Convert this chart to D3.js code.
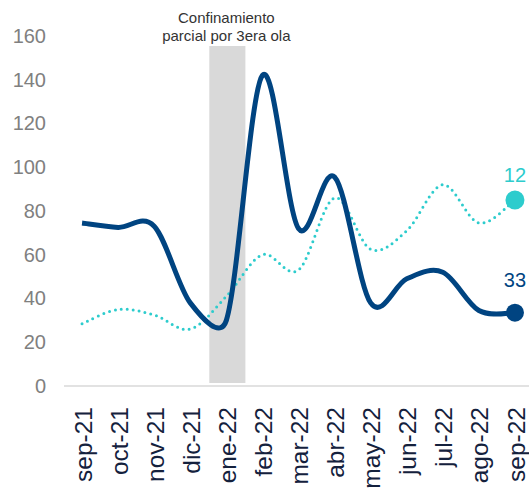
<!DOCTYPE html>
<html>
<head>
<meta charset="utf-8">
<script src="https://cdn.jsdelivr.net/npm/d3@7"></script>
<style>
  html, body { margin: 0; padding: 0; background: #fff; }
  svg { display: block; font-family: "Liberation Sans", Arial, sans-serif; }
</style>
</head>
<body>
<svg id="chart" width="529" height="488"></svg>
<script>
const months = ["sep-21","oct-21","nov-21","dic-21","ene-22","feb-22","mar-22","abr-22","may-22","jun-22","jul-22","ago-22","sep-22"];
const seriesNavy = [74.5, 72.5, 73, 38, 30, 142, 72, 95.5, 38, 49, 52, 34.5, 33.5];
const seriesAqua = [28.5, 35, 32.5, 26, 41, 60, 53, 86, 62.5, 71, 92, 74.5, 85];
const yTicks = [0, 20, 40, 60, 80, 100, 120, 140, 160];
const shadedMonth = "ene-22";
const annotationLines = ["Confinamiento", "parcial por 3era ola"];
const endLabelNavy = "33";
const endLabelAqua = "12";

const svg = d3.select("#chart");
const navy = "#004481", aqua = "#2dcccd";

const x = d3.scaleBand().domain(months).range([64, 533]).padding(0);
const y = d3.scaleLinear().domain([0, 160]).range([386, 36]);
const cx = m => x(m) + x.bandwidth() / 2;

// Spreadsheet-style smoothing curve (Bezier with capped control-point length)
function smoothCurve(context) {
  let pts;
  const dist = (a, b) => Math.hypot(a[0] - b[0], a[1] - b[1]);
  return {
    areaStart() {}, areaEnd() {},
    lineStart() { pts = []; },
    point(px, py) { pts.push([+px, +py]); },
    lineEnd() {
      const n = pts.length;
      if (!n) return;
      context.moveTo(pts[0][0], pts[0][1]);
      for (let i = 0; i < n - 1; i++) {
        const p0 = pts[Math.max(i - 1, 0)], p1 = pts[i], p2 = pts[i + 1], p3 = pts[Math.min(i + 2, n - 1)];
        const d12 = dist(p1, p2), d02 = dist(p0, p2), d13 = dist(p1, p3);
        const f1 = (d02 / 6 > d12 / 2 && d02 > 0) ? (d12 / 2) / d02 : 1 / 6;
        const f2 = (d13 / 6 > d12 / 2 && d13 > 0) ? (d12 / 2) / d13 : 1 / 6;
        context.bezierCurveTo(
          p1[0] + (p2[0] - p0[0]) * f1, p1[1] + (p2[1] - p0[1]) * f1,
          p2[0] - (p3[0] - p1[0]) * f2, p2[1] - (p3[1] - p1[1]) * f2,
          p2[0], p2[1]);
      }
    }
  };
}

// shaded band
svg.append("rect")
  .attr("x", x(shadedMonth) + 1)
  .attr("width", x.bandwidth())
  .attr("y", 46)
  .attr("height", y(0) - 46 - 3)
  .attr("fill", "#d9d9d9");

// annotation
const ann = svg.append("text")
  .attr("text-anchor", "middle")
  .attr("fill", "#333")
  .attr("font-size", 15);
annotationLines.forEach((t, i) => {
  ann.append("tspan").attr("x", cx(shadedMonth)).attr("y", 23 + i * 18).text(t);
});

// y axis labels
const yAxis = d3.axisLeft(y).tickValues(yTicks).tickSize(0).tickPadding(0);
const gy = svg.append("g").attr("transform", "translate(46,0)").call(yAxis);
gy.select(".domain").remove();
gy.selectAll("text")
  .attr("font-size", 20)
  .attr("fill", "#808080")
  .attr("font-family", "Liberation Sans, Arial, sans-serif");

// x axis
const xAxis = d3.axisBottom(x).tickSize(0).tickPadding(0);
const gx = svg.append("g").attr("transform", `translate(0,${y(0)})`).call(xAxis);
gx.select(".domain").attr("stroke", "#d9d9d9").attr("stroke-width", 1.5).attr("d", "M64,0H529");
gx.selectAll("text")
  .attr("font-size", 24.5)
  .attr("fill", "#14213d")
  .attr("font-family", "Liberation Sans, Arial, sans-serif")
  .attr("text-anchor", "end")
  .attr("transform", "translate(1,21) rotate(-90)")
  .attr("x", 0).attr("y", 0).attr("dy", "0.35em");

const line = d3.line().x((d, i) => cx(months[i])).y(d => y(d)).curve(smoothCurve);

// aqua dotted
svg.append("path")
  .attr("d", line(seriesAqua))
  .attr("fill", "none")
  .attr("stroke", aqua)
  .attr("stroke-width", 3)
  .attr("stroke-linecap", "round")
  .attr("stroke-dasharray", "0 6");

// navy solid
svg.append("path")
  .attr("d", line(seriesNavy))
  .attr("fill", "none")
  .attr("stroke", navy)
  .attr("stroke-width", 5)
  .attr("stroke-linejoin", "round");

const last = months[months.length - 1];
svg.append("circle").attr("cx", cx(last)).attr("cy", y(seriesAqua[seriesAqua.length - 1])).attr("r", 9.5).attr("fill", aqua);
svg.append("circle").attr("cx", cx(last)).attr("cy", y(seriesNavy[seriesNavy.length - 1])).attr("r", 9).attr("fill", navy);

svg.append("text").attr("x", cx(last)).attr("y", y(seriesAqua[seriesAqua.length - 1]) - 18)
  .attr("text-anchor", "middle").attr("font-size", 20).attr("fill", aqua).text(endLabelAqua);
svg.append("text").attr("x", cx(last)).attr("y", y(seriesNavy[seriesNavy.length - 1]) - 26)
  .attr("text-anchor", "middle").attr("font-size", 20).attr("fill", navy).text(endLabelNavy);
</script>
</body>
</html>
